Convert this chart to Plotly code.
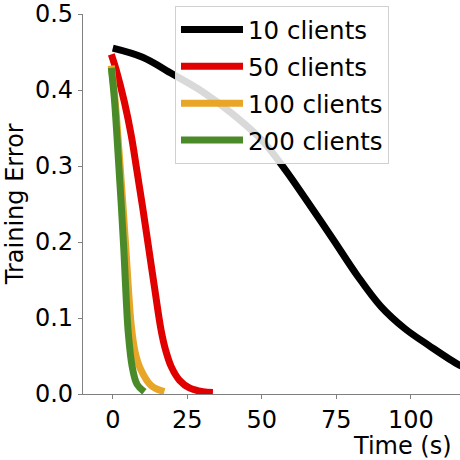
import plotly.graph_objects as go

# training error vs wall-clock time, one curve per client count
t_10 = [0, 10, 20, 30, 40, 50, 57.7, 65, 74, 82, 90, 98, 106, 116.3, 120]
err_10 = [0.455, 0.443, 0.421, 0.398, 0.369, 0.334, 0.296, 0.255, 0.203, 0.156, 0.115, 0.086,
          0.064, 0.038, 0.032]

t_50 = [-0.5, 1.1, 3.9, 6.2, 8.0, 10.0, 12.0, 14.0, 16.2, 17.7, 19.6, 22.4, 25.7, 30.2, 33.6]
err_50 = [0.447, 0.427, 0.384, 0.340, 0.296, 0.246, 0.193, 0.140, 0.084, 0.058, 0.036, 0.018,
          0.008, 0.003, 0.002]

t_100 = [-0.5, 0.8, 1.7, 2.6, 3.5, 4.4, 5.3, 6.2, 7.5, 9.3, 12.9, 17.3]
err_100 = [0.432, 0.385, 0.340, 0.292, 0.243, 0.190, 0.135, 0.090, 0.055, 0.033, 0.011, 0.003]

t_200 = [-0.5, 0.5, 1.3, 2.1, 2.9, 3.7, 4.5, 5.2, 6.5, 8.1, 10.6]
err_200 = [0.429, 0.390, 0.345, 0.295, 0.245, 0.190, 0.125, 0.080, 0.036, 0.013, 0.003]

labels = ["10 clients", "50 clients", "100 clients", "200 clients"]
colors = ["#000000", "#e00000", "#e8a628", "#4a8a28"]

FONT = "DejaVu Sans"
AXIS_GREY = "#808080"

fig = go.Figure()
for i, (t, e, name, c) in enumerate(zip([t_10, t_50, t_100, t_200],
                                        [err_10, err_50, err_100, err_200], labels, colors)):
    fig.add_trace(go.Scatter(
        x=t, y=e, mode="lines", name=name, legendgroup=f"g{i}",
        line=dict(color=c, width=7, shape="spline", smoothing=1.0),
    ))

fig.update_layout(
    width=460, height=460,
    margin=dict(l=83, r=0, t=9, b=66),
    paper_bgcolor="white", plot_bgcolor="white",
    font=dict(family=FONT, size=24, color="black"),
    showlegend=True,
    legend=dict(
        x=0.244, y=1.021, xanchor="left", yanchor="top",
        bgcolor="rgba(255,255,255,0.85)", bordercolor="#d0d0d0", borderwidth=1,
        font=dict(family=FONT, size=24.5), itemwidth=62,
        traceorder="grouped", tracegroupgap=2,
    ),
)
fig.update_xaxes(
    range=[-10, 116.5], tickvals=[0, 25, 50, 75, 100],
    showgrid=False, zeroline=False,
    showline=True, linecolor=AXIS_GREY, linewidth=1.2,
    ticks="outside", ticklen=4, tickcolor=AXIS_GREY,
    ticklabeloverflow="allow",
)
fig.update_yaxes(
    range=[0, 0.5], tickvals=[0, 0.1, 0.2, 0.3, 0.4, 0.5], tickformat=".1f",
    showgrid=False, zeroline=False,
    showline=True, linecolor=AXIS_GREY, linewidth=1.2,
    ticks="outside", ticklen=4, tickcolor=AXIS_GREY,
    ticklabeloverflow="allow",
)

fig.add_annotation(text="Training Error", xref="paper", yref="paper",
                   x=-0.18, y=0.5, textangle=-90, showarrow=False,
                   xanchor="center", yanchor="middle",
                   font=dict(family=FONT, size=24))
fig.add_annotation(text="Time (s)", xref="paper", yref="paper",
                   x=0.984, y=-0.138, showarrow=False,
                   xanchor="right", yanchor="middle",
                   font=dict(family=FONT, size=24))

# drop the default 8px body margin so the figure sits flush in the window
fig.write_html("out.html", config={"displayModeBar": False},
               post_script="document.body.style.margin='0';")
